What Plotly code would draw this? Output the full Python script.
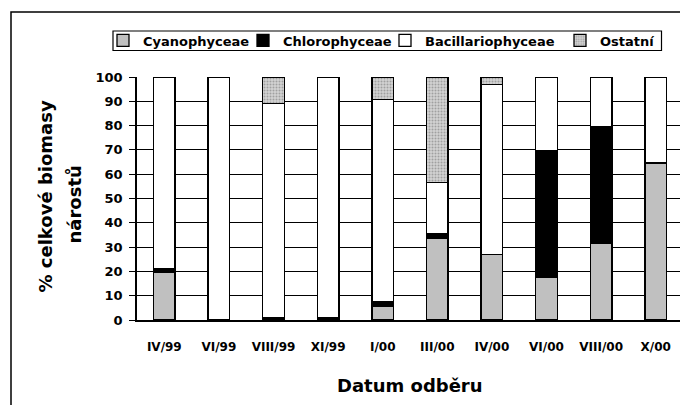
import plotly.graph_objects as go

categories = ["IV/99", "VI/99", "VIII/99", "XI/99", "I/00", "III/00", "IV/00", "VI/00", "VIII/00", "X/00"]
cyanophyceae = [19.5, 0.2, 0.5, 0.3, 5.5, 33.7, 27.1, 17.6, 31.5, 64.3]
chlorophyceae = [1.7, 0.0, 0.5, 0.8, 2.2, 1.7, 0.0, 52.2, 48.2, 0.3]
bacillariophyceae = [78.8, 99.8, 88.0, 98.9, 83.0, 21.2, 69.7, 30.2, 20.3, 35.4]
ostatni = [0.0, 0.0, 11.0, 0.0, 9.3, 43.4, 3.2, 0.0, 0.0, 0.0]
y_ticks = list(range(0, 101, 10))

FONT = "DejaVu Sans, sans-serif"
BAR_W = 0.395
line = dict(color="black", width=1.3)

fig = go.Figure()
fig.add_trace(go.Bar(name="Cyanophyceae", x=categories, y=cyanophyceae, width=BAR_W,
                     legend="legend", marker=dict(color="#C0C0C0", line=line)))
fig.add_trace(go.Bar(name="Chlorophyceae", x=categories, y=chlorophyceae, width=BAR_W,
                     legend="legend2", marker=dict(color="black", line=line)))
fig.add_trace(go.Bar(name="Bacillariophyceae", x=categories, y=bacillariophyceae, width=BAR_W,
                     legend="legend3", marker=dict(color="white", line=line)))
fig.add_trace(go.Bar(name="Ostatní", x=categories, y=ostatni, width=BAR_W,
                     legend="legend4",
                     marker=dict(color="#C8C8C8", line=line,
                                 pattern=dict(shape=".", fgcolor="#6E6E6E", bgcolor="#D2D2D2",
                                              size=3, solidity=0.35))))

# page is offset by the default 8px body margin
OFF = 8
W, H = 688 - OFF, 405 - OFF
PL, PR, PT, PB = 137, 683, 77, 320          # plot area in page pixels
L, R, T, B = PL - OFF, W - (PR - OFF), PT - OFF, H - (PB - OFF)
pw, ph = PR - PL, PB - PT

def px(x):
    return (x - PL) / pw

def py(y):
    return (PB - y) / ph

leg_font = dict(family=FONT, size=13, weight="bold", color="black")
LEG_Y = 40.5
sym_centers = [123, 263, 405, 580]

def legend_at(cx):
    return dict(orientation="h", x=px(cx - 20), y=py(LEG_Y), xanchor="left", yanchor="middle",
                borderwidth=0, bgcolor="rgba(0,0,0,0)", font=leg_font,
                itemwidth=30, tracegroupgap=0)

fig.update_layout(
    width=W, height=H,
    margin=dict(l=L, r=R, t=T, b=B, autoexpand=False),
    barmode="stack",
    plot_bgcolor="white", paper_bgcolor="white",
    font=dict(family=FONT, color="black", size=12),
    showlegend=True,
    legend=legend_at(sym_centers[0]),
    legend2=legend_at(sym_centers[1]),
    legend3=legend_at(sym_centers[2]),
    legend4=legend_at(sym_centers[3]),
    xaxis=dict(type="category", showline=True, linecolor="black", linewidth=1.5,
               ticks="", ticklabelstandoff=15,
               tickfont=dict(family=FONT, size=12, weight="bold"),
               showgrid=False, range=[-0.5, 9.5]),
    yaxis=dict(range=[0, 100], tickvals=y_ticks, ticktext=[str(v) for v in y_ticks],
               showgrid=True, gridcolor="black", gridwidth=1.3,
               showline=True, linecolor="black", linewidth=1.5,
               ticks="outside", ticklen=6, tickwidth=1.3, tickcolor="black",
               ticklabelstandoff=4,
               tickfont=dict(family=FONT, size=13, weight="bold"), zeroline=False),
    shapes=[
        dict(type="rect", xref="paper", yref="paper", x0=px(11), x1=px(720), y0=py(430), y1=py(12),
             line=dict(color="black", width=1.5), fillcolor="rgba(0,0,0,0)", layer="below"),
        dict(type="rect", xref="paper", yref="paper", x0=px(113), x1=px(661.5), y0=py(50.5), y1=py(31),
             line=dict(color="black", width=1.2), fillcolor="rgba(0,0,0,0)", layer="above"),
        dict(type="line", xref="paper", yref="paper", x0=1, x1=1, y0=0, y1=1,
             line=dict(color="black", width=1.5)),
    ],
    annotations=[
        dict(text="<b>% celkové biomasy</b>", xref="paper", yref="paper",
             x=px(44.5), y=py(197), textangle=-90, showarrow=False,
             font=dict(family=FONT, size=18), xanchor="center", yanchor="middle"),
        dict(text="<b>nárostů</b>", xref="paper", yref="paper",
             x=px(73.5), y=py(205), textangle=-90, showarrow=False,
             font=dict(family=FONT, size=18), xanchor="center", yanchor="middle"),
        dict(text="<b>Datum odběru</b>", xref="paper", yref="paper",
             x=0.5, y=py(386), showarrow=False, font=dict(family=FONT, size=18),
             xanchor="center", yanchor="middle"),
    ],
)

fig.write_html("out.html")
